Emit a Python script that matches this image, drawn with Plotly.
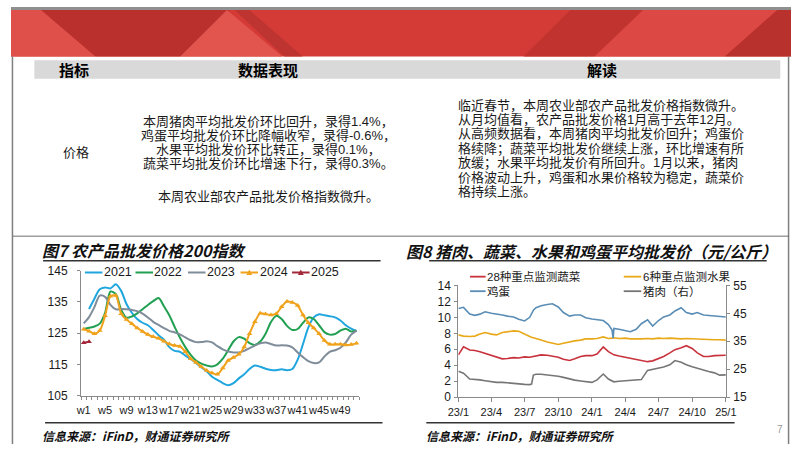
import plotly.graph_objects as go

W, H = 802, 451

# ---------------- Fig 7: 农产品批发价格200指数 (weekly) ----------------
weeks = list(range(1, 53))
week_labels = ["w" + str(w) for w in weeks]
idx_2021 = [None, 132.7, 136.0, 139.0, 139.6, 139.3, 140.6, 138.5, 134.3, 131.5,
            129.5, 128.3, 127.5, 126.0, 124.3, 122.9, 120.5, 119.3, 119.0, 117.8,
            116.7, 115.4, 114.0, 112.8, 111.0, 110.0, 109.0, 108.3, 109.0, 110.5,
            111.8, 113.5, 114.6, 114.2, 113.6, 113.2, 113.1, 113.4, 113.1, 113.5,
            116.5, 121.5, 126.8, 130.0, 131.0, 130.7, 130.4, 130.0, 129.0, 127.5,
            126.4, 125.6]
idx_2022 = [126.3, 126.7, 127.1, 128.0, 131.5, 138.3, 137.5, 132.5, 129.9, 130.3,
            131.3, 132.6, 134.0, 135.2, 136.2, 133.6, 130.7, 127.0, 123.5, 120.5,
            118.0, 116.2, 115.2, 114.6, 114.3, 115.0, 116.8, 119.5, 122.3, 123.7,
            123.2, 121.8, 121.2, 122.3, 124.8, 128.5, 130.5, 129.5, 127.3, 126.0,
            126.3, 128.3, 130.0, 129.5, 127.5, 125.3, 124.5, 124.7, 125.8, 126.4,
            125.5, 125.8]
idx_2023 = [128.1, 130.1, 133.3, 137.0, 136.6, 134.0, 132.6, 132.7, 132.6, 132.4,
            132.0, 131.2, 130.0, 128.6, 127.6, 126.6, 125.7, 125.2, 124.6, 123.6,
            122.7, 122.1, 122.1, 122.4, 122.0, 120.8, 119.8, 119.1, 118.8, 118.8,
            119.3, 120.2, 121.0, 121.7, 122.0, 121.5, 121.0, 121.1, 121.0, 120.4,
            118.8, 117.3, 116.0, 115.4, 115.6, 117.5, 119.0, 119.5, 120.3, 122.0,
            124.5, 125.8]
idx_2024 = [126.2, 125.6, 124.8, 125.8, 130.5, 136.8, 137.0, 131.2, 129.3, 128.0,
            126.6, 125.5, 124.5, 123.8, 123.3, 122.4, 121.5, 121.0, 120.7, 119.0,
            116.8, 115.6, 114.2, 113.0, 112.2, 111.8, 113.8, 116.2, 117.2, 118.2,
            120.5, 124.8, 128.6, 131.3, 131.1, 130.8, 131.2, 133.4, 135.1, 134.8,
            133.8, 130.8, 128.3, 126.6, 124.8, 122.6, 121.4, 121.4, 121.4, 121.2,
            121.3, 121.7]
idx_2025 = [121.9, 122.2]
years7 = ["2021", "2022", "2023", "2024", "2025"]

# ---------------- Fig 8: 猪肉、蔬菜、水果和鸡蛋平均批发价 ----------------
dates = ["2023-01-01", "2023-01-15", "2023-02-01", "2023-02-15", "2023-03-01", "2023-03-15",
         "2023-04-01", "2023-04-15", "2023-05-01", "2023-05-15", "2023-06-01", "2023-06-15",
         "2023-07-01", "2023-07-15", "2023-07-20", "2023-07-25", "2023-08-01", "2023-08-15",
         "2023-09-01", "2023-09-15", "2023-10-01", "2023-10-15", "2023-11-01", "2023-11-15",
         "2023-12-01", "2023-12-15", "2024-01-01", "2024-01-15", "2024-02-01", "2024-02-15",
         "2024-02-25", "2024-02-28", "2024-03-01", "2024-03-15", "2024-04-01", "2024-04-15",
         "2024-05-01", "2024-05-15", "2024-06-01", "2024-06-15", "2024-07-01", "2024-07-15",
         "2024-08-01", "2024-08-15", "2024-09-01", "2024-09-15", "2024-10-01", "2024-10-15",
         "2024-11-01", "2024-11-15", "2024-12-01", "2024-12-15", "2025-01-01"]
veg = [5.3, 6.3, 5.9, 5.85, 5.7, 5.5, 5.2, 5.0, 4.8, 4.85, 4.95, 4.9, 5.05, 5.0, 5.05, 5.1,
       5.15, 5.3, 5.25, 5.15, 5.0, 4.75, 4.6, 4.8, 5.1, 5.2, 5.2, 5.4, 6.3, 5.7, 5.4, 5.35,
       5.3, 5.15, 5.0, 4.85, 4.75, 4.55, 4.45, 4.55, 4.85, 5.1, 5.55, 5.95, 6.2, 6.45, 6.1,
       5.55, 5.1, 5.1, 5.2, 5.2, 5.25]
fruit = [7.8, 7.65, 7.6, 7.65, 7.9, 8.1, 7.9, 7.8, 8.1, 8.2, 8.3, 8.25, 7.85, 7.6, 7.5, 7.45,
         7.35, 7.15, 6.9, 6.75, 6.6, 6.75, 6.95, 7.05, 7.15, 7.3, 7.3, 7.35, 7.55, 7.35, 7.4,
         7.4, 7.45, 7.35, 7.4, 7.3, 7.35, 7.3, 7.35, 7.3, 7.4, 7.35, 7.4, 7.35, 7.3, 7.35,
         7.3, 7.3, 7.25, 7.2, 7.2, 7.2, 7.15]
egg = [11.1, 11.25, 10.4, 10.25, 10.4, 10.7, 10.5, 10.45, 10.3, 10.15, 10.05, 9.75, 9.55,
       10.0, 10.4, 10.9, 11.2, 11.45, 11.6, 11.7, 11.3, 10.6, 10.15, 10.3, 10.3, 9.95, 9.8,
       9.7, 9.6, 9.1, 8.4, 7.4, 8.6, 8.5, 8.3, 8.2, 8.5, 9.2, 9.7, 8.9, 9.6, 10.05, 10.3,
       10.8, 11.2, 10.6, 10.4, 10.6, 10.3, 10.25, 10.1, 10.1, 10.05]
pork = [24.3, 23.6, 21.5, 21.4, 21.2, 20.9, 20.5, 20.3, 20.3, 20.1, 19.9, 19.7, 19.6, 19.5,
        19.7, 22.9, 23.2, 23.2, 23.0, 22.8, 22.5, 22.1, 21.5, 21.1, 20.8, 20.6, 20.3, 21.2,
        23.3, 21.5, 20.7, 20.6, 20.5, 20.7, 20.9, 21.0, 21.1, 21.3, 24.6, 25.0, 25.5, 25.8,
        26.6, 28.1, 27.5, 26.6, 25.9, 25.3, 24.7, 24.2, 23.7, 22.9, 23.0]
series8_names = ["28种重点监测蔬菜", "6种重点监测水果", "鸡蛋", "猪肉（右）"]
quarter_ticks = ["2023-01-01", "2023-04-01", "2023-07-01", "2023-10-01", "2024-01-01",
                 "2024-04-01", "2024-07-01", "2024-10-01", "2025-01-01"]
quarter_labels = ["23/1", "23/4", "23/7", "23/10", "24/1", "24/4", "24/7", "24/10", "25/1"]

# ---------------- text ----------------
header_cols = ["指标", "数据表现", "解读"]
row_label = "价格"
perf_lines = ["本周猪肉平均批发价环比回升，录得1.4%，",
              "鸡蛋平均批发价环比降幅收窄，录得-0.6%，",
              "水果平均批发价环比转正，录得0.1%，",
              "蔬菜平均批发价环比增速下行，录得0.3%。"]
perf_last = "本周农业部农产品批发价格指数微升。"
read_lines = ["临近春节，本周农业部农产品批发价格指数微升。",
              "从月均值看，农产品批发价格1月高于去年12月。",
              "从高频数据看，本周猪肉平均批发价回升；鸡蛋价",
              "格续降；蔬菜平均批发价继续上涨，环比增速有所",
              "放缓；水果平均批发价有所回升。1月以来，猪肉",
              "价格波动上升，鸡蛋和水果价格较为稳定，蔬菜价",
              "格持续上涨。"]
title7 = "图7 农产品批发价格200指数"
title8 = "图8 猪肉、蔬菜、水果和鸡蛋平均批发价（元/公斤）"
source = "信息来源：iFinD，财通证券研究所"

# ---------------- styles ----------------
CJK = "Noto Sans CJK SC, Noto Sans, sans-serif"
BODY = "Liberation Sans, Noto Sans CJK SC, sans-serif"
NUM = "Liberation Sans, Arial, sans-serif"
AX = "#8a8a8a"
TXT = "#1a1a1a"
c7 = ["#1fa6df", "#22a052", "#7f8c99", "#f0a21c", "#a3283a"]
c8 = ["#c8323c", "#e8a817", "#5a8db5", "#767676"]


def X(p):
    return p / W


def Y(p):
    return 1 - p / H


shapes = []
anns = []


def rect(x0, y0, x1, y1, color):
    shapes.append(dict(type="rect", xref="paper", yref="paper", x0=X(x0), x1=X(x1),
                       y0=Y(y1), y1=Y(y0), fillcolor=color, line=dict(width=0), layer="below"))


def poly(pts, color, layer="below"):
    path = "M " + " L ".join(f"{X(a):.5f},{Y(b):.5f}" for a, b in pts) + " Z"
    shapes.append(dict(type="path", xref="paper", yref="paper", path=path, fillcolor=color,
                       line=dict(width=0), layer=layer))


def seg(x0, y0, x1, y1, color, width):
    shapes.append(dict(type="line", xref="paper", yref="paper", x0=X(x0), x1=X(x1),
                       y0=Y(y0), y1=Y(y1), line=dict(color=color, width=width)))


def text(s, x, y, size, anchor="left", family=BODY, color=TXT, weight="normal", style="normal"):
    anns.append(dict(text=s, x=X(x), y=Y(y), xref="paper", yref="paper", xanchor=anchor,
                     yanchor="middle", showarrow=False, borderpad=0,
                     font=dict(family=family, size=size, color=color, weight=weight, style=style)))


# banner
rect(0, 0, 802, 3, "#8f8f8f")
rect(0, 3, 802, 51, "#d53b36")
poly([(0, 3), (31, 3), (87, 51), (0, 51)], "#e0504b")
poly([(31, 3), (225, 3), (174, 51), (87, 51)], "#b9302d")
poly([(174, 51), (222, 3), (279, 51)], "#e2554f")
poly([(230, 3), (245, 3), (300, 51), (281, 51)], "#bd3430")
poly([(527, 51), (575, 3), (650, 3), (600, 51)], "#c0332f")
poly([(600, 51), (650, 3), (788, 3), (734, 51)], "#dc4843")
poly([(788, 3), (802, 3), (802, 51), (734, 51)], "#b8312d")

# page borders
seg(1.5, 51, 1.5, 451, "#7f7f7f", 1.5)
seg(799.5, 51, 799.5, 451, "#7f7f7f", 1.5)

# table header
rect(24, 55, 791, 74, "#d9d9d9")
text(header_cols[0], 65, 64.5, 15, "center", family=CJK, weight="bold", color="#000")
text(header_cols[1], 264, 64.5, 15, "center", family=CJK, weight="bold", color="#000")
text(header_cols[2], 608, 64.5, 15, "center", family=CJK, weight="bold", color="#000")

text(row_label, 67, 150, 13, "center")
for i, s in enumerate(perf_lines):
    text(s, 265, 118.3 + i * 14.5, 13, "center")
text(perf_last, 265, 196, 13, "center")
for i, s in enumerate(read_lines):
    text(s, 459, 101.7 + i * 14.8, 13, "left")

# separator
seg(2, 236.5, 800, 236.5, "#6e6e6e", 1)

# chart titles
text(title7, 31, 250.5, 16, "left", family=CJK, weight="bold", style="italic", color="#111")
text(title8, 405, 251.5, 16, "left", family=CJK, weight="bold", style="italic", color="#111")
seg(33, 262, 380, 262, "#333", 1.5)
seg(430, 262, 777, 262, "#333", 1.5)

# bottom source lines
seg(35, 429, 382, 429, "#333", 1.5)
seg(427, 429, 744, 429, "#333", 1.5)
text(source, 31, 442.5, 12, "left", family=CJK, weight="bold", style="italic", color="#111")
text(source, 426, 442.5, 12, "left", family=CJK, weight="bold", style="italic", color="#111")
text("7", 791, 436, 10, "center", family=NUM, color="#999")

# legend fig7 (manual)
leg7 = [(76, 94), (128, 146), (182, 200), (236, 254), (289, 307)]
for k, (a, b) in enumerate(leg7):
    seg(a, 274, b, 274, c7[k], 2)
    if k >= 3:
        m = (a + b) / 2
        poly([(m - 3, 276.5), (m + 3, 276.5), (m, 271)], c7[k], layer="above")
    text(years7[k], b + 0.5, 274, 12.5, "left", family=NUM)

# legend fig8 (manual)
leg8 = [(472, 488, 278.3), (630, 648, 278.3), (472, 488, 293.3), (630, 648, 293.3)]
for k, (a, b, yy) in enumerate(leg8):
    seg(a, yy, b, yy, c8[k], 1.8)
    text(series8_names[k], b + 0.5, yy, 11.5, "left")

fig = go.Figure()

# Fig 7 traces
for k, vals in enumerate([idx_2021, idx_2022, idx_2023, idx_2024, idx_2025]):
    has_m = k >= 3
    fig.add_trace(go.Scatter(
        x=weeks[:len(vals)], y=vals, name=years7[k],
        mode="lines+markers" if has_m else "lines",
        line=dict(color=c7[k], width=2, shape="spline", smoothing=0.8),
        marker=dict(symbol="triangle-up", size=5, color=c7[k]) if has_m else None,
        xaxis="x", yaxis="y", showlegend=False, connectgaps=False))

# Fig 8 traces
for k, (vals, ax) in enumerate([(veg, "y2"), (fruit, "y2"), (egg, "y2"), (pork, "y3")]):
    fig.add_trace(go.Scatter(
        x=dates, y=vals, name=series8_names[k], mode="lines",
        line=dict(color=c8[k], width=1.6),
        xaxis="x2", yaxis=ax, showlegend=False))

yfont = dict(family=NUM, size=12, color="#1a1a1a")
xfont = dict(family=NUM, size=11, color="#1a1a1a")

fig.update_layout(
    width=W, height=H, margin=dict(l=0, r=0, t=0, b=0),
    paper_bgcolor="white", plot_bgcolor="rgba(0,0,0,0)", showlegend=False,
    xaxis=dict(domain=[X(72), X(358)], anchor="y", range=[0.5, 52.5],
               tickmode="array", tickvals=weeks[::4], ticktext=week_labels[::4],
               tickangle=0, ticks="", showline=True, linecolor=AX, linewidth=1,
               showgrid=False, zeroline=False, tickfont=xfont, ticklabelstandoff=4,
               minor=dict(tickmode="linear", tick0=0.5, dtick=1, ticks="outside",
                          ticklen=3, tickcolor=AX, showgrid=False)),
    yaxis=dict(domain=[Y(401), Y(272)], anchor="x", range=[105, 145],
               tickmode="array", tickvals=[105, 115, 125, 135, 145],
               ticks="outside", ticklen=3, tickcolor=AX, showline=True, linecolor=AX,
               linewidth=1, showgrid=False, zeroline=False, tickfont=yfont,
               ticklabelstandoff=7),
    xaxis2=dict(domain=[X(460), X(735)], anchor="y2", type="date",
                range=["2023-01-01", "2025-01-01"], tickmode="array",
                tickvals=quarter_ticks, ticktext=quarter_labels, tickangle=0,
                ticks="outside", ticklen=4, tickcolor=AX, showline=True, linecolor=AX,
                linewidth=1, showgrid=False, zeroline=False, tickfont=xfont,
                ticklabelstandoff=1),
    yaxis2=dict(domain=[Y(402.7), Y(287.3)], anchor="x2", range=[0, 14], dtick=2,
                tick0=0, ticks="outside", ticklen=3, tickcolor=AX, showline=True,
                linecolor=AX, linewidth=1, showgrid=False, zeroline=False,
                tickfont=yfont, ticklabelstandoff=1),
    yaxis3=dict(overlaying="y2", anchor="x2", side="right", range=[15, 55], dtick=10,
                tick0=15, ticks="outside", ticklen=3, tickcolor=AX, showline=True,
                linecolor=AX, linewidth=1, showgrid=False, zeroline=False,
                tickfont=yfont, ticklabelstandoff=1),
    shapes=shapes, annotations=anns,
)

fig.write_html("out.html")
